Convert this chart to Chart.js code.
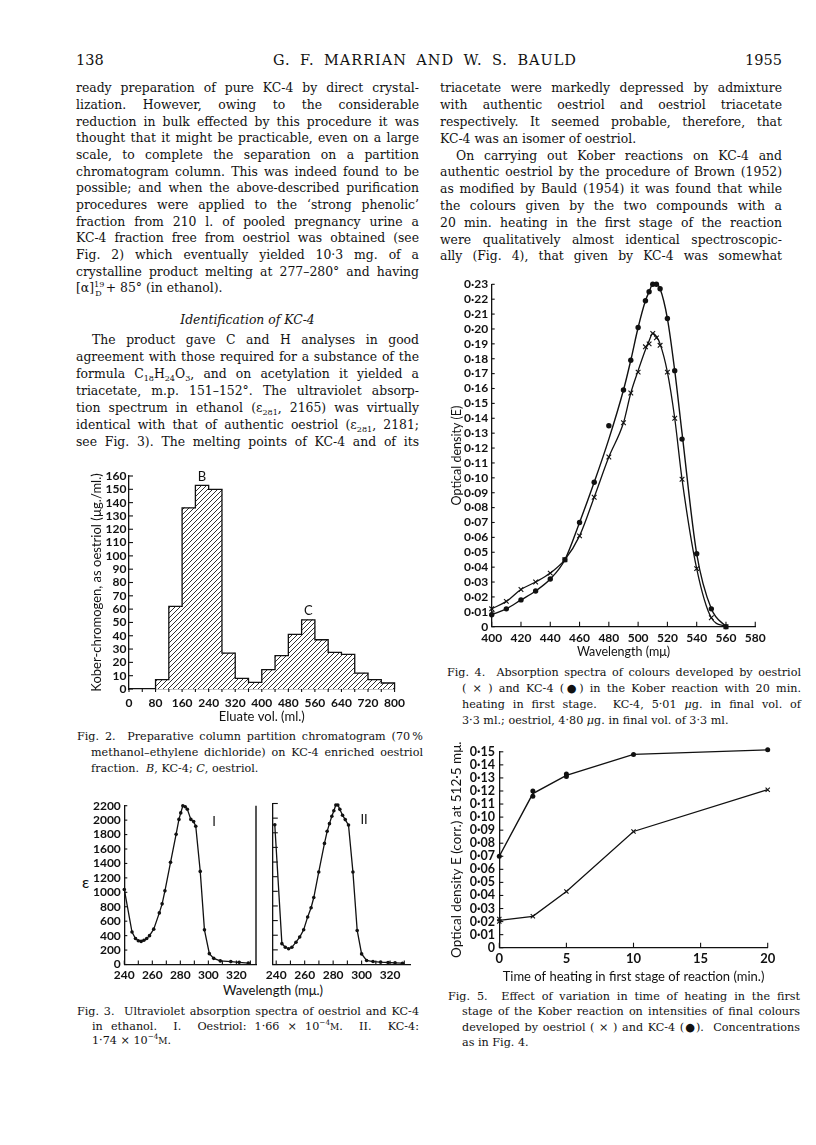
<!DOCTYPE html>
<html><head><meta charset="utf-8">
<script src="https://cdn.jsdelivr.net/npm/chart.js@4.4.0/dist/chart.umd.min.js"></script>
<style>
html,body{margin:0;padding:0;background:#fff;}
body{width:816px;height:1145px;position:relative;overflow:hidden;font-family:"DejaVu Serif","Liberation Serif",serif;color:#111;}
.ln{position:absolute;height:16px;line-height:16px;font-size:12.4px;}
.cap{font-size:11.2px;}
.j{text-align:justify;text-align-last:justify;}
.c{text-align:center;}
canvas{position:absolute;}
sub,sup{font-size:65%;line-height:0;}
.sans{font-family:Lato,"Open Sans",sans-serif;position:absolute;color:#111;}
.hdr{position:absolute;font-size:14.5px;line-height:20px;height:20px;}
</style></head><body>
<div class="hdr" style="left:76px;top:50px;">138</div>
<div class="hdr j" style="left:273px;top:50px;width:304px;letter-spacing:1px;">G. F. MARRIAN AND W. S. BAULD</div>
<div class="hdr" style="left:700px;top:50px;width:82px;text-align:right;">1955</div>
<div class="sans" style="left:82px;top:872px;font-size:16px;line-height:20px;">ε</div>
<div class="sans" style="left:173px;top:981px;width:200px;text-align:center;font-size:13px;line-height:18px;">Wavelength (mμ.)</div>
<script>
// ---------------- DATA ----------------
// Fig. 2 histogram (bins of 40 ml starting at binStarts)
const binStarts   = [80,120,160,200,240,280,320,360,400,440,480,520,560,600,640,680,720,760];
const koberValues = [7,62,136,153,150,27,8,5,14.5,25,41,52,37,27.5,26,12,7,4.5];
const binWidth = 40;
const fig2XTicks = [0,80,160,240,320,400,480,560,640,720,800];
const fig2YTicks = [0,10,20,30,40,50,60,70,80,90,100,110,120,130,140,150,160];
const fig2PeakLabels = ['B','C'];
const fig2PeakBins   = [200,520];

// Fig. 3 UV spectra
const wlI  = [240,245.5,248,250,252,254,256,258,261,265,267,269,273,277,279,280.3,281.8,283.5,285,287.5,289.5,291,294.2,297.2,300.7,303.8,308.5,316,322,328.5];
const epsI = [1040,450,360,330,320,335,360,400,490,715,840,1020,1415,1805,2010,2100,2200,2185,2150,2010,1980,1915,1290,480,150,85,50,40,30,20];
const wlII  = [239,244,246.4,248.7,251,253.9,256.5,259.3,262.1,264.5,266.4,269.9,273.9,275.8,277.4,279.1,280.5,281.9,283.3,284.7,286.6,288.5,290.8,293.9,296.9,300,303.5,308,313.4,318.6,323.5,328.7];
const epsII = [1910,285,235,215,235,305,375,475,650,775,915,1265,1655,1820,1925,2025,2100,2180,2180,2120,2040,1980,1905,1265,465,145,55,40,32,27,23,18];
const fig3XTicks = [240,260,280,300,320];
const fig3YTicks = [0,200,400,600,800,1000,1200,1400,1600,1800,2000,2200];
const fig3PanelLabels = ['I','II'];

// Fig. 4 Kober colour spectra
const wl4       = [400,410,420,430,440,450,460,470,480,490,495,500,505,507.5,510,512.5,515,520,525,530,540,550,560];
const kc4Pts    = [0.008,0.012,0.018,0.024,0.032,0.045,0.070,0.097,0.135,0.159,0.179,0.201,0.219,0.225,0.230,0.230,0.227,0.207,0.172,0.126,0.049,0.012,0.000];
const kc4Curve  = [0.008,0.012,0.018,0.024,0.032,0.045,0.070,0.097,0.126,0.159,0.179,0.201,0.219,0.225,0.230,0.230,0.227,0.207,0.172,0.130,0.049,0.012,0.000];
const oesPts    = [0.012,0.017,0.025,0.030,0.036,0.045,0.061,0.087,0.114,0.137,0.157,0.171,0.188,0.190,0.197,0.194,0.189,0.171,0.140,0.099,0.039,0.006,0.000];
const oesCurve  = [0.012,0.017,0.025,0.030,0.036,0.045,0.061,0.087,0.114,0.137,0.157,0.172,0.186,0.192,0.197,0.195,0.190,0.171,0.140,0.099,0.039,0.006,0.000];
const fig4XTicks = [400,420,440,460,480,500,520,540,560,580];
const fig4YTicks = [0,0.01,0.02,0.03,0.04,0.05,0.06,0.07,0.08,0.09,0.10,0.11,0.12,0.13,0.14,0.15,0.16,0.17,0.18,0.19,0.20,0.21,0.22,0.23];

// Fig. 5 time of heating
const time5      = [0,2.5,5,10,20];
const kc4Line5   = [0.070,0.118,0.132,0.148,0.1515];
const oesLine5   = [0.021,0.024,0.043,0.089,0.121];
const kc4PtT5    = [0,2.5,2.5,5,5,10,20];
const kc4PtV5    = [0.070,0.120,0.116,0.133,0.131,0.148,0.1515];
const oesPtT5    = [0,0,2.5,5,10,20];
const oesPtV5    = [0.022,0.020,0.024,0.043,0.089,0.121];
const fig5XTicks = [0,5,10,15,20];
const fig5YTicks = [0,0.01,0.02,0.03,0.04,0.05,0.06,0.07,0.08,0.09,0.10,0.11,0.12,0.13,0.14,0.15];

// ---------------- TEXT ----------------
function addLines(x, w, y0, dy, lines, cls) {
  lines.forEach((l, i) => {
    const d = document.createElement('div');
    const ind = l[2] || 0;
    const avail = w - ind;
    d.className = 'ln ' + (cls || '');
    d.style.left = (x + ind) + 'px';
    d.style.width = avail + 'px';
    d.style.top = (y0 + i * dy - 8) + 'px';
    d.style.whiteSpace = 'nowrap';
    d.innerHTML = '<span>' + l[0] + '</span>';
    document.body.appendChild(d);
    const sw = d.firstChild.getBoundingClientRect().width;
    if (sw > avail - 4) {
      const n = d.textContent.length;
      d.style.letterSpacing = ((avail - 4 - sw) / n).toFixed(3) + 'px';
    }
    d.style.whiteSpace = 'normal';
    if (l[1] !== false) d.classList.add('j');
  });
}
addLines(76, 343, 88.3, 16.67, [
  ['ready preparation of pure KC-4 by direct crystal-'],
  ['lization.  However, owing to the considerable'],
  ['reduction in bulk effected by this procedure it was'],
  ['thought that it might be practicable, even on a large'],
  ['scale, to complete the separation on a partition'],
  ['chromatogram column. This was indeed found to be'],
  ['possible; and when the above-described purification'],
  ['procedures were applied to the ‘strong phenolic’'],
  ['fraction from 210 l. of pooled pregnancy urine a'],
  ['KC-4 fraction free from oestriol was obtained (see'],
  ['Fig. 2) which eventually yielded 10·3 mg. of a'],
  ['crystalline product melting at 277–280° and having'],
  ['[α]<sup>19</sup><sub style="margin-left:-9px">D</sub>&nbsp;+ 85° (in ethanol).', false]
]);
addLines(76, 343, 320, 0, [['<i>Identification of KC-4</i>', false]], 'c');
addLines(76, 343, 340, 16.95, [
  ['The product gave C and H analyses in good', true, 16],
  ['agreement with those required for a substance of the'],
  ['formula C<sub>18</sub>H<sub>24</sub>O<sub>3</sub>, and on acetylation it yielded a'],
  ['triacetate, m.p. 151–152°. The ultraviolet absorp-'],
  ['tion spectrum in ethanol (ε<sub>281</sub>, 2165) was virtually'],
  ['identical with that of authentic oestriol (ε<sub>281</sub>, 2181;'],
  ['see Fig. 3). The melting points of KC-4 and of its']
]);
addLines(440, 342, 88.3, 16.8, [
  ['triacetate were markedly depressed by admixture'],
  ['with authentic oestriol and oestriol triacetate'],
  ['respectively. It seemed probable, therefore, that'],
  ['KC-4 was an isomer of oestriol.', false],
  ['On carrying out Kober reactions on KC-4 and', true, 16],
  ['authentic oestriol by the procedure of Brown (1952)'],
  ['as modified by Bauld (1954) it was found that while'],
  ['the colours given by the two compounds with a'],
  ['20 min. heating in the first stage of the reaction'],
  ['were qualitatively almost identical spectroscopic-'],
  ['ally (Fig. 4), that given by KC-4 was somewhat']
]);
// captions
addLines(77, 346, 737, 16, [
  ['Fig. 2.&nbsp; Preparative column partition chromatogram (70&thinsp;%'],
  ['methanol–ethylene dichloride) on KC-4 enriched oestriol', true, 14],
  ['fraction.&nbsp; <i>B</i>, KC-4; <i>C</i>, oestriol.', false, 14]
], 'cap');
addLines(77, 342, 1012, 14.5, [
  ['Fig. 3.&nbsp; Ultraviolet absorption spectra of oestriol and KC-4'],
  ['in ethanol.&nbsp; I.&nbsp; Oestriol: 1·66 × 10<sup>−4</sup><span style="font-size:9px">M</span>.&nbsp; II.&nbsp; KC-4:', true, 15],
  ['1·74 × 10<sup>−4</sup><span style="font-size:9px">M</span>.', false, 15]
], 'cap');
addLines(447, 354, 673, 16, [
  ['Fig. 4.&nbsp; Absorption spectra of colours developed by oestriol'],
  ['( × ) and KC-4 (●) in the Kober reaction with 20 min.', true, 15],
  ['heating in first stage.&nbsp; KC-4, 5·01 <i>μ</i>g. in final vol. of', true, 15],
  ['3·3 ml.; oestriol, 4·80 <i>μ</i>g. in final vol. of 3·3 ml.', false, 15]
], 'cap');
addLines(448, 352, 997, 15.3, [
  ['Fig. 5.&nbsp; Effect of variation in time of heating in the first'],
  ['stage of the Kober reaction on intensities of final colours', true, 14],
  ['developed by oestriol ( × ) and KC-4 (●).&nbsp; Concentrations', true, 14],
  ['as in Fig. 4.', false, 14]
], 'cap');

// ---------------- CHARTS ----------------
Chart.defaults.font.family = 'Lato, "Open Sans", sans-serif';
Chart.defaults.color = '#111';
const INK = '#111';

const tickMarks = {
  id: 'tickMarks',
  afterDraw(chart, args, opts) {
    if (!opts) return;
    const ctx = chart.ctx;
    ctx.save(); ctx.strokeStyle = INK; ctx.lineWidth = 1.1;
    ['x','y'].forEach(id => {
      const o = opts[id]; if (!o) return;
      const s = chart.scales[id];
      const d = o.dir === 'in' ? -1 : 1;
      o.vals.forEach(v => {
        const p = s.getPixelForValue(v);
        ctx.beginPath();
        if (id === 'x') { ctx.moveTo(p, s.top); ctx.lineTo(p, s.top + d * o.len); }
        else { ctx.moveTo(s.right, p); ctx.lineTo(s.right - d * o.len, p); }
        ctx.stroke();
      });
    });
    if (opts.rightFrame) {
      const a = chart.chartArea; ctx.lineWidth = 1.4;
      ctx.beginPath(); ctx.moveTo(a.right, a.top); ctx.lineTo(a.right, a.bottom); ctx.stroke();
    }
    ctx.restore();
  }
};
const textMarks = {
  id: 'textMarks',
  afterDatasetsDraw(chart, args, opts) {
    if (!opts || !opts.items) return;
    const ctx = chart.ctx;
    ctx.save(); ctx.fillStyle = INK; ctx.textAlign = 'center'; ctx.textBaseline = 'middle';
    opts.items.forEach(it => {
      ctx.font = it.font;
      ctx.fillText(it.text, chart.scales.x.getPixelForValue(it.x), chart.scales.y.getPixelForValue(it.y) + (it.dy || 0));
    });
    ctx.restore();
  }
};
Chart.register(tickMarks, textMarks);

function range(a, b, s) { const r = []; for (let v = a; v <= b + 1e-9; v += s) r.push(Math.round(v * 1000) / 1000); return r; }
const decFmt = v => v === 0 ? '0' : v.toFixed(2).replace('.', '·');

function axis(min, max, tickVals, o) {
  o = o || {};
  return {
    type: 'linear', min, max, offset: false,
    afterBuildTicks: s => { s.ticks = tickVals.map(v => ({ value: v })); },
    grid: { display: false, drawTicks: false },
    border: { display: true, color: INK, width: 1.3 },
    ticks: { display: o.labels !== false, color: INK, autoSkip: false, maxRotation: 0, minRotation: 0,
             padding: o.pad || 3, font: o.font || { size: 12, weight: 'bold' },
             callback: o.fmt || (v => String(v)) },
    title: o.title ? { display: true, text: o.title, color: INK, font: o.titleFont || { size: 12.5 },
                       padding: o.titlePad || { top: 0, bottom: 0 } } : { display: false }
  };
}

function mk(box, area, build) {
  const c = document.createElement('canvas');
  c.width = box.w; c.height = box.h;
  c.style.left = box.x + 'px'; c.style.top = box.y + 'px';
  c.style.width = box.w + 'px'; c.style.height = box.h + 'px';
  document.body.appendChild(c);
  const cfg = build(c.getContext('2d'));
  const yW = area.l - box.x, xH = box.y + box.h - area.b;
  cfg.options.layout = { padding: { left: 0, top: area.t - box.y, right: box.x + box.w - area.r, bottom: 0 } };
  cfg.options.scales.x.afterFit = s => { s.height = xH; };
  cfg.options.scales.y.afterFit = s => { s.width = yW; };
  cfg.options.responsive = false;
  cfg.options.animation = false;
  cfg.options.events = [];
  cfg.options.plugins = Object.assign({ legend: { display: false }, tooltip: { enabled: false } }, cfg.options.plugins || {});
  return new Chart(c, cfg);
}

// ---- Fig. 2 ----
mk({ x: 60, y: 462, w: 352, h: 265 }, { l: 129, t: 476, r: 397, b: 689 }, ctx => {
  const pc = document.createElement('canvas'); pc.width = 5; pc.height = 5;
  const p = pc.getContext('2d');
  p.fillStyle = '#fff'; p.fillRect(0, 0, 5, 5);
  p.strokeStyle = '#1a1a1a'; p.lineWidth = 0.9;
  p.beginPath(); p.moveTo(0, 5); p.lineTo(5, 0); p.moveTo(-1, 1); p.lineTo(1, -1); p.moveTo(4, 6); p.lineTo(6, 4); p.stroke();
  const hatch = ctx.createPattern(pc, 'repeat');
  const outline = [{ x: binStarts[0], y: 0 }]
    .concat(binStarts.map((b, i) => ({ x: b, y: koberValues[i] })))
    .concat([{ x: binStarts[binStarts.length - 1] + binWidth, y: 0 }]);
  return {
    type: 'bar',
    data: { datasets: [
      { type: 'line', data: outline, stepped: 'before', borderColor: INK, borderWidth: 1.3, pointRadius: 0, fill: false, order: 0, clip: false },
      { type: 'bar', data: binStarts.map((b, i) => ({ x: b + binWidth / 2, y: koberValues[i] })),
        backgroundColor: hatch, borderWidth: 0, barPercentage: 1, categoryPercentage: 1, order: 1 }
    ]},
    options: {
      scales: {
        x: axis(0, 800, fig2XTicks, { pad: 7, title: 'Eluate vol. (ml.)', titleFont: { size: 13 }, titlePad: { top: 0, bottom: 2.5 } }),
        y: axis(0, 160, fig2YTicks, { pad: 2.5, title: 'Kober-chromogen, as oestriol (µg./ml.)', titleFont: { size: 13 }, titlePad: { top: 29.2, bottom: 0 } })
      },
      plugins: {
        tickMarks: { x: { vals: range(0, 800, 40), len: 3, dir: 'out' }, y: { vals: fig2YTicks, len: 4, dir: 'in' } },
        textMarks: { items: fig2PeakLabels.map((t, i) => ({ text: t, x: fig2PeakBins[i] + binWidth / 2, y: koberValues[binStarts.indexOf(fig2PeakBins[i])], dy: -9, font: '13px Lato' })) }
      }
    }
  };
});

// ---- Fig. 3 panel I ----
mk({ x: 80, y: 795, w: 180, h: 190 }, { l: 124.3, t: 803.5, r: 258.3, b: 964.5 }, ctx => ({
  type: 'line',
  data: { datasets: [{ data: wlI.map((x, i) => ({ x, y: epsI[i] })), borderColor: INK, borderWidth: 1.3, tension: 0,
                       pointRadius: 1.8, pointBackgroundColor: INK, pointBorderWidth: 0, clip: false }] },
  options: {
    scales: { x: axis(240, 334, fig3XTicks, { pad: 3.5 }), y: axis(0, 2200, fig3YTicks, { pad: 3.5 }) },
    plugins: {
      tickMarks: { x: { vals: range(240, 330, 10), len: 4, dir: 'in' }, y: { vals: fig3YTicks, len: 3, dir: 'in' }, rightFrame: true },
      textMarks: { items: [{ text: fig3PanelLabels[0], x: 304, y: 1980, font: '13px Lato' }] }
    }
  }
}));
// ---- Fig. 3 panel II ----
mk({ x: 262, y: 795, w: 152, h: 190 }, { l: 272.7, t: 803.5, r: 410, b: 964.5 }, ctx => ({
  type: 'line',
  data: { datasets: [{ data: wlII.map((x, i) => ({ x, y: epsII[i] })), borderColor: INK, borderWidth: 1.3, tension: 0,
                       pointRadius: 1.8, pointBackgroundColor: INK, pointBorderWidth: 0, clip: false }] },
  options: {
    scales: { x: axis(237.6, 334, fig3XTicks, { pad: 3.5 }), y: axis(0, 2200, fig3YTicks, { labels: false }) },
    plugins: {
      tickMarks: { x: { vals: range(240, 330, 10), len: 4, dir: 'in' }, y: { vals: fig3YTicks, len: 5, dir: 'in' } },
      textMarks: { items: [{ text: fig3PanelLabels[1], x: 301.7, y: 1980, font: '13px Lato' }] }
    }
  }
}));

// ---- Fig. 4 ----
mk({ x: 440, y: 270, w: 330, h: 390 }, { l: 491.7, t: 284.3, r: 760, b: 626.7 }, ctx => ({
  type: 'line',
  data: { datasets: [
    { data: wl4.map((x, i) => ({ x, y: kc4Curve[i] })), borderColor: INK, borderWidth: 1.4, pointRadius: 0, cubicInterpolationMode: 'monotone', clip: false },
    { data: wl4.map((x, i) => ({ x, y: oesCurve[i] })), borderColor: INK, borderWidth: 1.3, pointRadius: 0, cubicInterpolationMode: 'monotone', clip: false },
    { data: wl4.map((x, i) => ({ x, y: kc4Pts[i] })), showLine: false, pointRadius: 2.7, pointBackgroundColor: INK, pointBorderWidth: 0, clip: false },
    { data: wl4.map((x, i) => ({ x, y: oesPts[i] })), showLine: false, pointStyle: 'crossRot', pointRadius: 3.3, pointBorderColor: INK, pointBorderWidth: 1.1, clip: false }
  ]},
  options: {
    scales: {
      x: axis(400, 580, fig4XTicks, { pad: 4.3, title: 'Wavelength (mμ)', titleFont: { size: 12.5 }, titlePad: { top: 0, bottom: 0.8 } }),
      y: axis(0, 0.23, fig4YTicks, { pad: 3.5, fmt: decFmt, title: 'Optical density (E)', titleFont: { size: 12.5 }, titlePad: { top: 9.2, bottom: 0 } })
    },
    plugins: { tickMarks: { x: { vals: fig4XTicks, len: 5, dir: 'in' }, y: { vals: fig4YTicks, len: 3, dir: 'in' } } }
  }
}));

// ---- Fig. 5 ----
mk({ x: 440, y: 740, w: 340, h: 245 }, { l: 499.3, t: 749.7, r: 767.7, b: 947.7 }, ctx => ({
  type: 'line',
  data: { datasets: [
    { data: time5.map((x, i) => ({ x, y: kc4Line5[i] })), borderColor: INK, borderWidth: 1.4, pointRadius: 0, tension: 0, clip: false },
    { data: time5.map((x, i) => ({ x, y: oesLine5[i] })), borderColor: INK, borderWidth: 1.3, pointRadius: 0, tension: 0, clip: false },
    { data: kc4PtT5.map((x, i) => ({ x, y: kc4PtV5[i] })), showLine: false, pointRadius: 2.5, pointBackgroundColor: INK, pointBorderWidth: 0, clip: false },
    { data: oesPtT5.map((x, i) => ({ x, y: oesPtV5[i] })), showLine: false, pointStyle: 'crossRot', pointRadius: 3, pointBorderColor: INK, pointBorderWidth: 1.1, clip: false }
  ]},
  options: {
    scales: {
      x: axis(0, 20, fig5XTicks, { pad: 3.3, font: { size: 13, weight: 'bold' }, title: 'Time of heating in first stage of reaction (min.)', titleFont: { size: 13 }, titlePad: { top: 0, bottom: 0.5 } }),
      y: axis(0, 0.15, fig5YTicks, { pad: 4.3, fmt: decFmt, font: { size: 12.5, weight: 'bold' }, title: 'Optical density E (corr.) at 512·5 mμ.', titleFont: { size: 13.5 }, titlePad: { top: 8.6, bottom: 0 } })
    },
    plugins: { tickMarks: { x: { vals: fig5XTicks, len: 5, dir: 'in' }, y: { vals: fig5YTicks, len: 4, dir: 'in' } } }
  }
}));
</script>
</body></html>
